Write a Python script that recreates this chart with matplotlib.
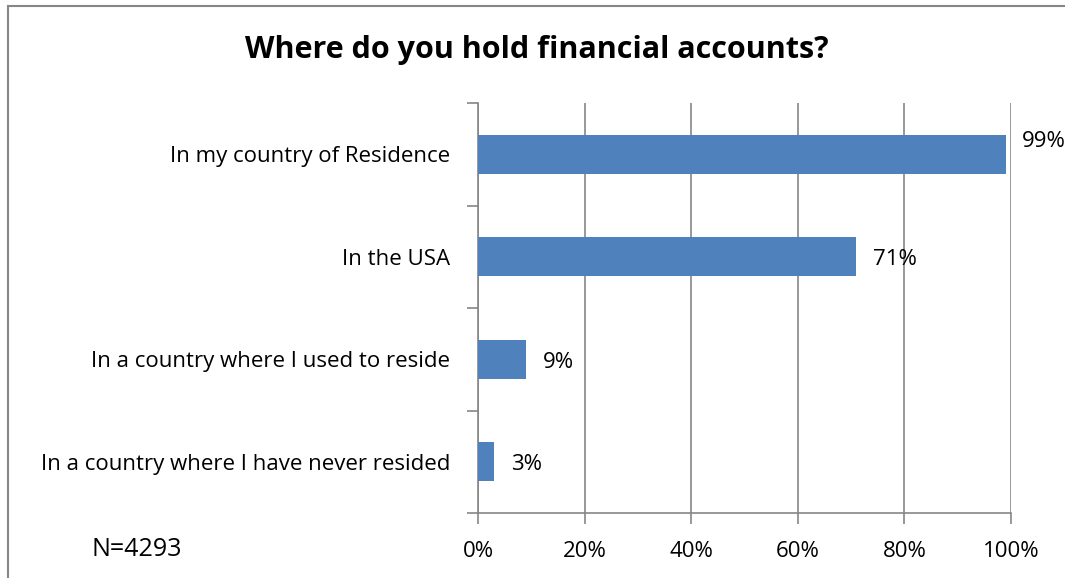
import matplotlib.pyplot as plt
from matplotlib.patches import Rectangle
from matplotlib.ticker import FixedLocator

categories = ["In my country of Residence", "In the USA",
              "In a country where I used to reside",
              "In a country where I have never resided"]
values = [99, 71, 9, 3]
labels = ["99%", "71%", "9%", "3%"]
xticks = [0, 20, 40, 60, 80, 100]
title = "Where do you hold financial accounts?"
note = "N=4293"

plt.rcParams['font.family'] = ['Open Sans', 'DejaVu Sans']
grey = "#868686"

fig = plt.figure(figsize=(10.65, 5.78), dpi=100)
ax = fig.add_axes([478/1065, 1-513/578, 533/1065, 410/578])

# chart border (cropped at right/bottom in the reference)
fig.patches.append(Rectangle((8/1065, -0.1), 1.2, 1 - 6/578 + 0.1,
                             transform=fig.transFigure, fill=False,
                             edgecolor=grey, linewidth=1.5))

y = list(range(len(categories)))
ax.barh(y, values, height=0.38, color="#4F81BD", zorder=3)
ax.set_ylim(len(categories) - 0.5, -0.5)
ax.set_xlim(0, 100)

ax.set_yticks(y)
ax.set_yticklabels(categories, fontsize=16)
ax.tick_params(axis='y', length=0, pad=20)
ax.yaxis.set_minor_locator(FixedLocator([i - 0.5 for i in range(len(categories) + 1)]))
ax.tick_params(axis='y', which='minor', length=8, color=grey, width=1.2)

ax.set_xticks(xticks)
ax.set_xticklabels([f"{t}%" for t in xticks], fontsize=16)
ax.tick_params(axis='x', length=8, color=grey, width=1.2, pad=12)
ax.xaxis.grid(True, color=grey, linewidth=1.2, zorder=0)

for s in ['top', 'right']:
    ax.spines[s].set_visible(False)
for s in ['left', 'bottom']:
    ax.spines[s].set_color(grey)
    ax.spines[s].set_linewidth(1.2)

for i, (v, lab) in enumerate(zip(values, labels)):
    dy = 9 if v >= 95 else -2
    ax.annotate(lab, (v, i), xytext=(12, dy), textcoords='offset points',
                va='center', ha='left', fontsize=16)

fig.text(537/1065, 1 - 50/578, title, ha='center', va='center',
         fontsize=22, fontweight='bold')
fig.text(92/1065, 1 - 550/578, note, ha='left', va='center', fontsize=18)

fig.savefig("out.png", dpi=100)
